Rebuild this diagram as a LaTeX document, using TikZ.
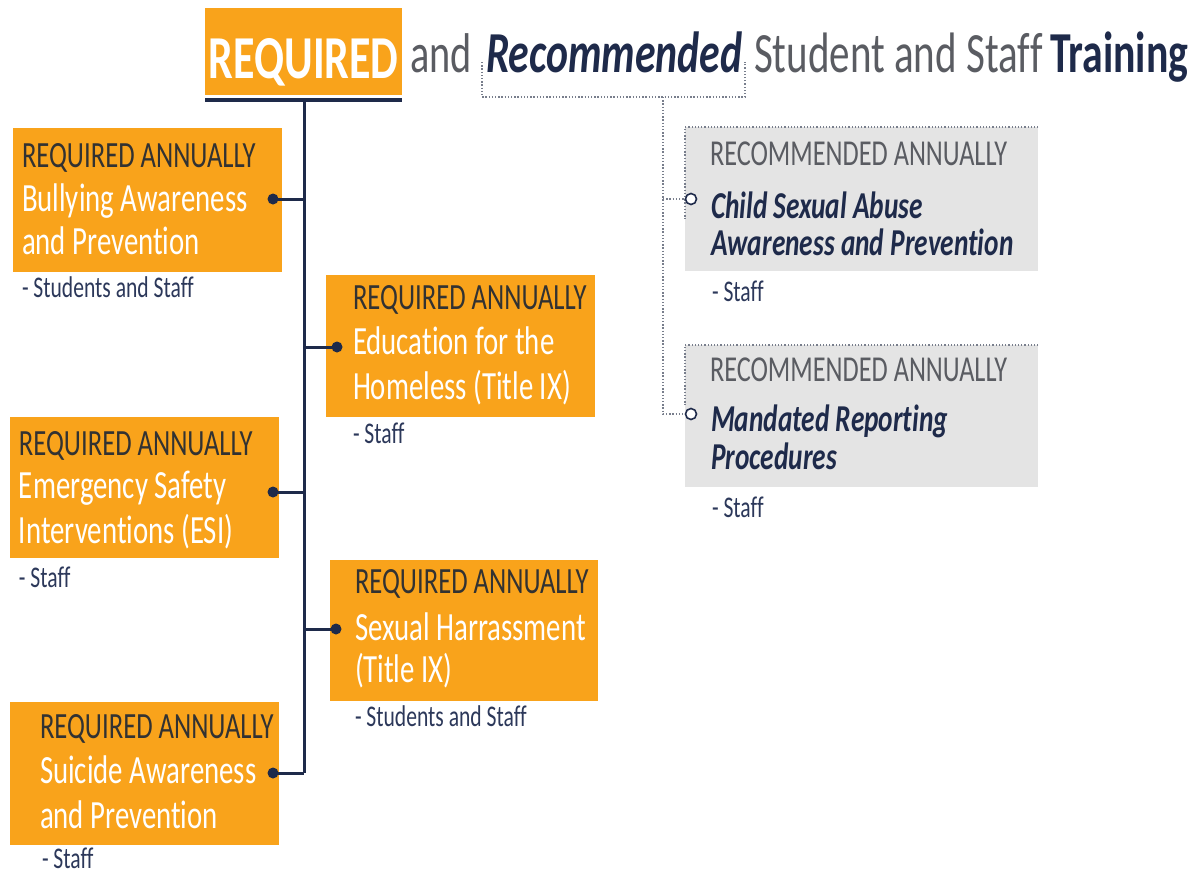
\documentclass[tikz,border=0pt]{standalone}
\usepackage{fontspec}
\setmainfont{Carlito}[FakeStretch=0.72, Ligatures=NoCommon]
\usetikzlibrary{calc}
\definecolor{orng}{RGB}{249,163,27}
\definecolor{navy}{RGB}{30,42,74}
\definecolor{ttlgray}{RGB}{90,92,98}
\definecolor{dkgray}{RGB}{50,50,50}
\definecolor{subnavy}{RGB}{44,56,90}
\definecolor{boxgray}{RGB}{228,228,228}
\definecolor{dotgray}{RGB}{120,126,140}
\tikzset{
  obox/.style={fill=orng, draw=none, anchor=north west, inner sep=0pt},
  gbox/.style={fill=boxgray, draw=none, anchor=north west, inner sep=0pt},
  txt/.style={anchor=base west, inner sep=0pt, outer sep=0pt},
  hdr/.style={txt, text=dkgray, font=\fontsize{37}{40}\selectfont},
  wht/.style={txt, text=white, font=\fontsize{40}{44}\selectfont},
  sub/.style={txt, text=subnavy, font=\fontsize{30}{34}\selectfont},
  rhdr/.style={txt, text=ttlgray, font=\fontsize{36.5}{40}\selectfont},
  ritl/.style={txt, text=navy, font=\fontsize{38}{42}\selectfont\bfseries\itshape},
  ndot/.style={circle, fill=navy, inner sep=0pt, minimum size=11pt},
  odot/.style={circle, draw=navy, fill=white, line width=1.6pt, inner sep=0pt, minimum size=11pt},
  trunk/.style={draw=navy, line width=3pt},
  dotline/.style={draw=dotgray, line width=1.3pt, dash pattern=on 1.3pt off 1.9pt},
}
\begin{document}
\begin{tikzpicture}[x=1pt,y=-1pt]
\useasboundingbox (0,0) rectangle (1199,876);
% ---------- title ----------
\node[obox, minimum width=197pt, minimum height=87pt] (tbox) at (205,8) {};
\node[anchor=base, inner sep=0pt, text=white, font=\fontsize{61}{66}\selectfont\bfseries] (treq) at ($(tbox.north)+(0,70)$) {REQUIRED};
\coordinate (barL) at (205,100);
\coordinate (barR) at (402,100);
\draw[navy, line width=4pt] (barL) -- (barR);
\node[txt, text=ttlgray, font=\fontsize{56}{60}\selectfont] (tand) at (410,72) {and};
\node[txt, text=navy, font=\fontsize{58}{60}\selectfont\bfseries\itshape] (trec) at (486,72) {Recommended};
\node[txt, text=ttlgray, font=\fontsize{57}{60}\selectfont] (tsas) at (754,72) {Student and Staff};
\node[txt, text=navy, font=\fontsize{58}{60}\selectfont\bfseries] (ttrn) at (1050,72) {Training};
% ---------- trunk ----------
\coordinate (ttop) at (304,100);
\coordinate (tbot) at (304,773);
\draw[trunk] (ttop) -- (tbot);
% ---------- box A ----------
\node[obox, minimum width=269pt, minimum height=144pt] (bA) at (13,128) {};
\node[hdr] (bA1) at (22,167) {REQUIRED ANNUALLY};
\node[wht] (bA2) at (22,211) {Bullying Awareness};
\node[wht] (bA3) at (22,254) {and Prevention};
\node[sub] (bA4) at (22,297) {- Students and Staff};
\node[ndot] (dA) at (273,199) {};
\draw[trunk] (dA.center) -- (dA -| ttop);
% ---------- box B ----------
\node[obox, minimum width=269pt, minimum height=142pt] (bB) at (326,275) {};
\node[hdr] (bB1) at (353,309) {REQUIRED ANNUALLY};
\node[wht] (bB2) at (353,354) {Education for the};
\node[wht] (bB3) at (353,399) {Homeless (Title IX)};
\node[sub] (bB4) at (353,443) {- Staff};
\node[ndot] (dB) at (337,347) {};
\draw[trunk] (dB.center) -- (dB -| ttop);
% ---------- box C ----------
\node[obox, minimum width=269pt, minimum height=141pt] (bC) at (10,417) {};
\node[hdr] (bC1) at (19,455) {REQUIRED ANNUALLY};
\node[wht] (bC2) at (19,498) {Emergency Safety};
\node[wht] (bC3) at (19,543) {Interventions (ESI)};
\node[sub] (bC4) at (19,587) {- Staff};
\node[ndot] (dC) at (273,492) {};
\draw[trunk] (dC.center) -- (dC -| ttop);
% ---------- box D ----------
\node[obox, minimum width=268pt, minimum height=141pt] (bD) at (330,560) {};
\node[hdr] (bD1) at (355,593) {REQUIRED ANNUALLY};
\node[wht] (bD2) at (355,640) {Sexual Harrassment};
\node[wht] (bD3) at (355,682) {(Title IX)};
\node[sub] (bD4) at (355,726) {- Students and Staff};
\node[ndot] (dD) at (336,629) {};
\draw[trunk] (dD.center) -- (dD -| ttop);
% ---------- box E ----------
\node[obox, minimum width=269pt, minimum height=143pt] (bE) at (10,702) {};
\node[hdr] (bE1) at (40,738) {REQUIRED ANNUALLY};
\node[wht] (bE2) at (40,783) {Suicide Awareness};
\node[wht] (bE3) at (40,828) {and Prevention};
\node[sub] (bE4) at (42,868) {- Staff};
\node[ndot] (dE) at (273,773) {};
\draw[trunk] (dE.center) -- (tbot);
% ---------- recommended bracket ----------
\coordinate (brL) at (482,62);
\coordinate (brR) at (745,62);
\coordinate (brM) at (663,97);
\draw[dotline] (brL) -- (brL |- brM) -- (brR |- brM) -- (brR);
% ---------- right box 1 ----------
\node[gbox, minimum width=353pt, minimum height=144pt] (r1) at (685,127) {};
\node[rhdr] (r1a) at (710,165) {RECOMMENDED ANNUALLY};
\node[ritl] (r1b) at (711,218) {Child Sexual Abuse};
\node[ritl] (r1c) at (711,255) {Awareness and Prevention};
\node[sub] (r1d) at (712,301) {- Staff};
\draw[dotline] (r1.north east) -- (r1.north west) -- ++(0,92);
% ---------- right box 2 ----------
\node[gbox, minimum width=353pt, minimum height=142pt] (r2) at (685,345) {};
\node[rhdr] (r2a) at (710,381) {RECOMMENDED ANNUALLY};
\node[ritl] (r2b) at (711,431) {Mandated Reporting};
\node[ritl] (r2c) at (711,469) {Procedures};
\node[sub] (r2d) at (712,517) {- Staff};
\draw[dotline] (r2.north east) -- (r2.north west) -- ++(0,60);
% ---------- dotted spine ----------
\node[odot] (c1) at (691,199) {};
\node[odot] (c2) at (691,414) {};
\draw[dotline] (brM) -- (brM |- c2) -- (c2.west);
\draw[dotline] (brM |- c1) -- (c1.west);
\end{tikzpicture}
\end{document}
